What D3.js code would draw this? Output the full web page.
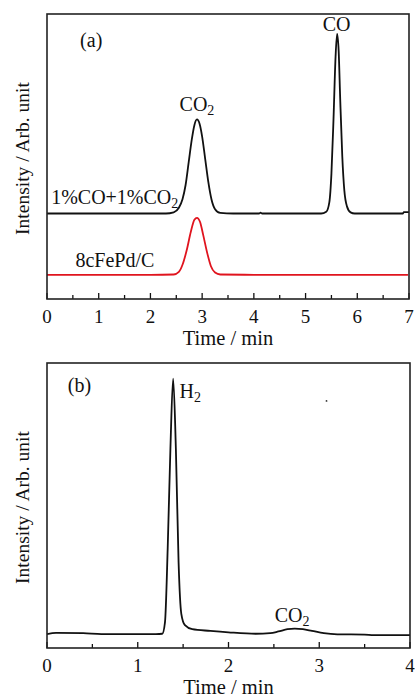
<!DOCTYPE html>
<html>
<head>
<meta charset="utf-8">
<script src="https://cdn.jsdelivr.net/npm/d3@7"></script>
<style>
  body { margin: 0; background: #fff; }
</style>
</head>
<body>
<div class="chart"></div>
<script>
const width = 415;
const height = 698;
const serif = '"Liberation Serif", "Times New Roman", Times, "DejaVu Serif", serif';

// panel (a): [time, intensity]
const mixTrace = [
  [0, 3.0], [1.5, 3.0], [2.3, 3.0], [2.45, 3.04], [2.55, 3.2], [2.62, 3.5], [2.68, 4.0],
  [2.74, 4.8], [2.8, 5.6], [2.85, 6.1], [2.9, 6.3], [2.95, 6.15], [3.0, 5.7],
  [3.06, 4.9], [3.12, 4.1], [3.18, 3.5], [3.25, 3.15], [3.35, 3.02], [3.6, 3.0],
  [4.1, 3.0], [4.13, 3.03], [4.16, 3.0], [5.3, 3.0], [5.4, 3.06], [5.46, 3.4],
  [5.5, 4.4], [5.54, 6.3], [5.58, 8.5], [5.61, 9.3], [5.64, 8.7], [5.67, 7.0],
  [5.71, 5.0], [5.75, 3.8], [5.8, 3.25], [5.87, 3.04], [5.95, 3.0], [6.88, 3.0],
  [6.9, 3.05], [7.0, 3.05]
];
const catTrace = [
  [0, 0.85], [2.0, 0.85], [2.45, 0.86], [2.55, 0.95], [2.62, 1.2], [2.7, 1.7],
  [2.78, 2.35], [2.85, 2.78], [2.9, 2.85], [2.96, 2.7], [3.02, 2.25], [3.1, 1.6],
  [3.17, 1.15], [3.25, 0.93], [3.35, 0.86], [4.0, 0.85], [6.98, 0.85]
];
const xTicksA = [0, 1, 2, 3, 4, 5, 6, 7];

// panel (b)
const h2Trace = [
  [0, 0.49], [0.1, 0.53], [0.4, 0.52], [0.6, 0.49], [1.2, 0.49], [1.27, 0.5],
  [1.3, 0.9], [1.33, 3.5], [1.36, 7.0], [1.39, 9.45], [1.42, 7.0], [1.45, 3.0],
  [1.48, 1.2], [1.52, 0.8], [1.6, 0.66], [1.8, 0.6], [2.0, 0.55], [2.3, 0.5],
  [2.46, 0.52], [2.55, 0.58], [2.65, 0.66], [2.73, 0.68], [2.82, 0.66],
  [2.92, 0.6], [3.05, 0.52], [3.2, 0.48], [3.5, 0.47], [3.6, 0.45], [4.0, 0.45]
];
const xTicksB = [0, 1, 2, 3, 4];

const svg = d3.select('.chart').append('svg')
  .attr('width', width)
  .attr('height', height)
  .style('font-family', serif)

function panel(opts) {
  const g = svg.append('g')
  const x = d3.scaleLinear().domain(opts.xDomain).range([opts.left, opts.right])
  const y = d3.scaleLinear().domain([0, 10]).range([opts.bottom, opts.top])

  // minor ticks (inward)
  const minor = d3.range(opts.xDomain[0] + 0.5, opts.xDomain[1], 1)
  g.selectAll('.minor')
    .data(minor)
    .enter()
    .append('line')
    .attr('x1', d => x(d)).attr('x2', d => x(d))
    .attr('y1', opts.bottom).attr('y2', opts.bottom - 4)
    .attr('stroke', '#111').attr('stroke-width', 1.3)

  g.selectAll('.major')
    .data(opts.ticks)
    .enter()
    .append('line')
    .attr('x1', d => x(d)).attr('x2', d => x(d))
    .attr('y1', opts.bottom).attr('y2', opts.bottom - 6)
    .attr('stroke', '#111').attr('stroke-width', 1.3)

  g.selectAll('.tlab')
    .data(opts.ticks)
    .enter()
    .append('text')
    .attr('x', d => x(d))
    .attr('y', opts.bottom + 24)
    .attr('text-anchor', 'middle')
    .attr('fill', '#111')
    .style('font-size', '19px')
    .text(d => d)

  g.append('text')
    .attr('x', (opts.left + opts.right) / 2)
    .attr('y', opts.bottom + 46)
    .attr('text-anchor', 'middle')
    .attr('fill', '#111')
    .style('font-size', '20.5px')
    .text('Time / min')

  g.append('text')
    .attr('transform', `translate(29,${(opts.top + opts.bottom) / 2 + 2}) rotate(-90)`)
    .attr('text-anchor', 'middle')
    .attr('fill', '#111')
    .style('font-size', '19.5px')
    .text('Intensity / Arb. unit')

  const line = d3.line()
    .x(d => x(d[0]))
    .y(d => y(d[1]))
    .curve(d3.curveMonotoneX)

  opts.series.forEach(s => {
    g.append('path')
      .attr('d', line(s.data))
      .attr('fill', 'none')
      .attr('stroke', s.color)
      .attr('stroke-width', 1.8)
  })

  g.append('rect')
    .attr('x', opts.left).attr('y', opts.top)
    .attr('width', opts.right - opts.left)
    .attr('height', opts.bottom - opts.top)
    .attr('fill', 'none')
    .attr('stroke', '#222')
    .attr('stroke-width', 1.6)

  return { g, x, y }
}

const a = panel({
  xDomain: [0, 7], ticks: xTicksA,
  left: 47, right: 409, top: 14, bottom: 299,
  series: [{ data: mixTrace, color: '#111' }, { data: catTrace, color: '#e0141e' }]
})

function label(p, tx, ty, main, sub, anchor) {
  const t = p.g.append('text')
    .attr('x', p.x(tx)).attr('y', p.y(ty))
    .attr('text-anchor', anchor || 'middle')
    .attr('fill', '#111')
    .style('font-size', '20px')
  t.append('tspan').text(main)
  if (sub) t.append('tspan').attr('dy', 4).style('font-size', '14px').text(sub)
}

label(a, 0.64, 8.85, '(a)', null, 'start')
label(a, 2.9, 6.6, 'CO', '2')
label(a, 5.6, 9.4, 'CO', null)
label(a, 0.08, 3.35, '1%CO+1%CO', '2', 'start')
label(a, 0.55, 1.12, '8cFePd/C', null, 'start')

const b = panel({
  xDomain: [0, 4], ticks: xTicksB,
  left: 47, right: 410, top: 363, bottom: 648,
  series: [{ data: h2Trace, color: '#111' }]
})

label(b, 0.23, 8.98, '(b)', null, 'start')
label(b, 1.46, 8.77, 'H', '2', 'start')
label(b, 2.7, 0.91, 'CO', '2')

// stray dot in panel (b)
b.g.append('circle')
  .attr('cx', b.x(3.08)).attr('cy', b.y(8.67))
  .attr('r', 0.9).attr('fill', '#333')
</script>
</body>
</html>
